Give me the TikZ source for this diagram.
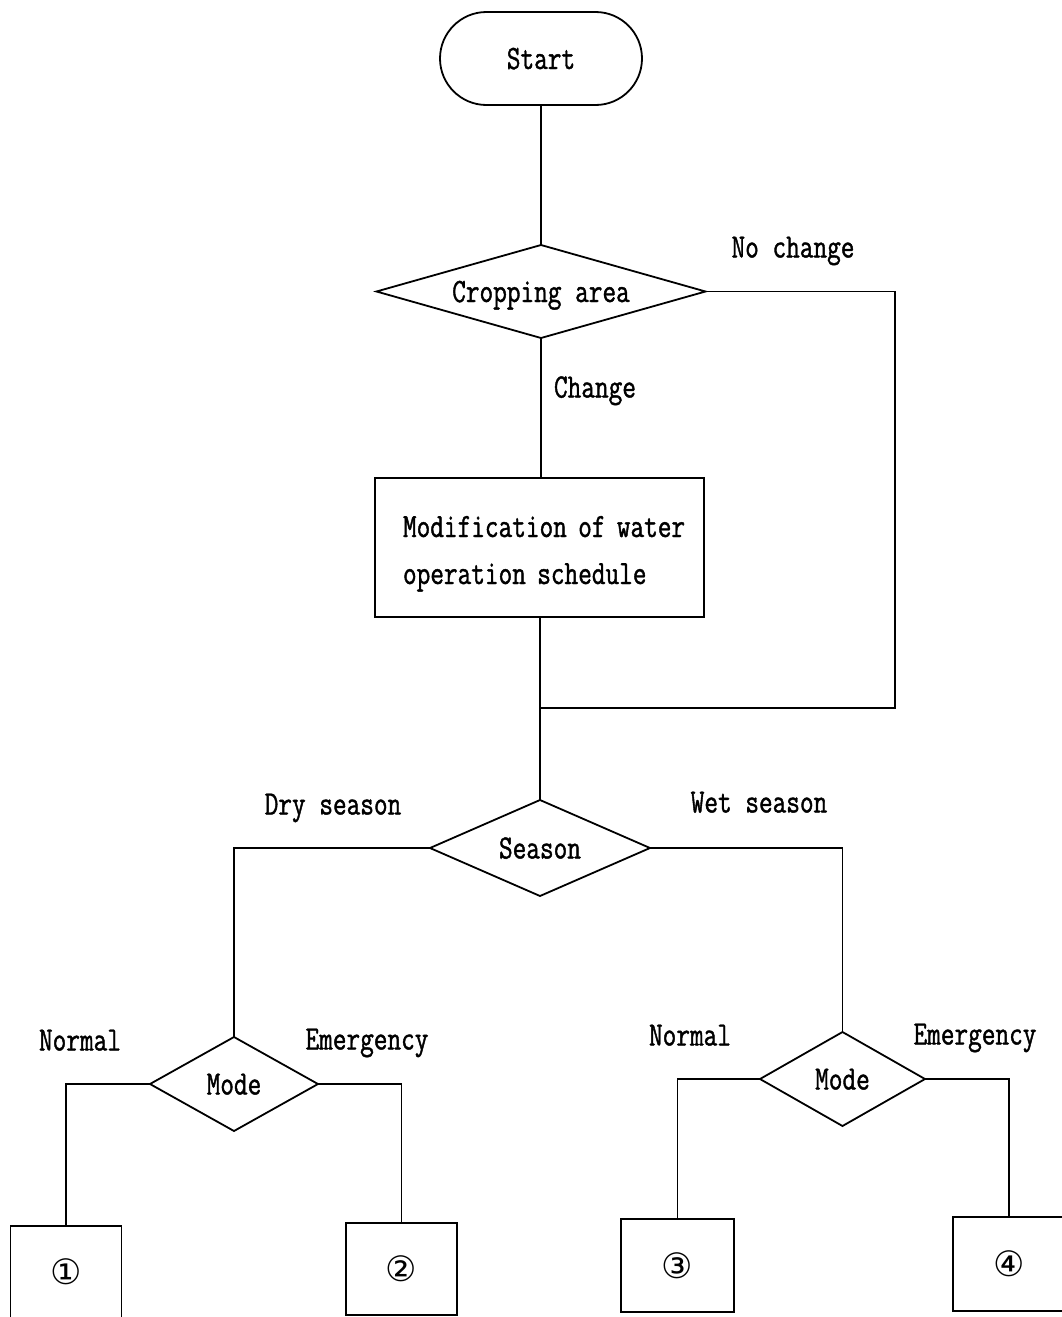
\documentclass[tikz,border=0pt]{standalone}
\usepackage{fontspec}
\usetikzlibrary{shapes.geometric,shapes.misc}
\newfontfamily\flowfont[FakeStretch=0.78,FakeBold=1.2]{Latin Modern Mono}
\newfontfamily\numfont{DejaVu Sans}

\tikzset{
  flow/.style={line width=1.8pt, line join=miter},
  txt/.style={font=\flowfont\fontsize{34}{47}\selectfont, text height=21pt, text depth=0pt, inner sep=0pt, outer sep=0pt},
  terminal/.style={txt, draw, flow, rounded rectangle, minimum width=202, minimum height=93},
  decision/.style={txt, draw, flow, diamond, aspect=2.5},
  process/.style={txt, draw, flow, rectangle, text height=0pt, text depth=21pt},
  outbox/.style={draw, flow, rectangle, inner sep=0pt, outer sep=0pt, minimum width=111, minimum height=92,
                 font=\numfont\fontsize{35}{35}\selectfont},
  lbl/.style={txt}
}

\begin{document}
\begin{tikzpicture}[x=1pt, y=-1pt]
\useasboundingbox (0,0) rectangle (1062,1317);

% main column
\node[terminal] (start) at (541,58.5) {Start};
\node[decision, minimum width=329, minimum height=93] (crop) at (541,291.5) {Cropping area};
\node[process, minimum width=329, minimum height=139, text width=273, align=left] (mod) at (539.5,547.5)
  {\mbox{Modification of water}\\\mbox{operation schedule}};
\node[decision, minimum width=220, minimum height=96] (season) at (540,848) {Season};

% mode decisions
\node[decision, minimum width=168, minimum height=94, aspect=1.8] (mode1) at (234,1084) {Mode};
\node[decision, minimum width=165, minimum height=94, aspect=1.8] (mode2) at (842.5,1079) {Mode};

% resulting cases
\node[outbox] (b1) at (66,1272) {①};
\node[outbox] (b2) at (401.5,1269) {②};
\node[outbox, minimum width=113, minimum height=93] (b3) at (677.5,1265.5) {③};
\node[outbox, minimum width=112, minimum height=94] (b4) at (1009,1264) {④};

% bypass coordinates
\coordinate (bypass) at (895,708);
\coordinate (join) at (540,708);

% connectors
\draw[flow] (start.south) -- (crop.north);
\draw[flow] (crop.south) -- (crop.south |- mod.north);
\draw[flow] (crop.east) -| (bypass) -- (join);
\draw[flow] (mod.south -| season.north) -- (season.north);
\draw[flow] (season.west) -| (mode1.north);
\draw[flow] (season.east) -| (mode2.north);
\draw[flow] (mode1.west) -| (b1.north);
\draw[flow] (mode1.east) -| (b2.north);
\draw[flow] (mode2.west) -| (b3.north);
\draw[flow] (mode2.east) -| (b4.north);

% branch labels
\node[lbl] (lnochange) at (793,247) {No change};
\node[lbl] (lchange) at (595,387) {Change};
\node[lbl] (ldry) at (333,804) {Dry season};
\node[lbl] (lwet) at (759,802) {Wet season};
\node[lbl] (ln1) at (80,1040) {Normal};
\node[lbl] (le1) at (367,1039) {Emergency};
\node[lbl] (ln2) at (690,1035) {Normal};
\node[lbl] (le2) at (975,1034) {Emergency};
\end{tikzpicture}
\end{document}
